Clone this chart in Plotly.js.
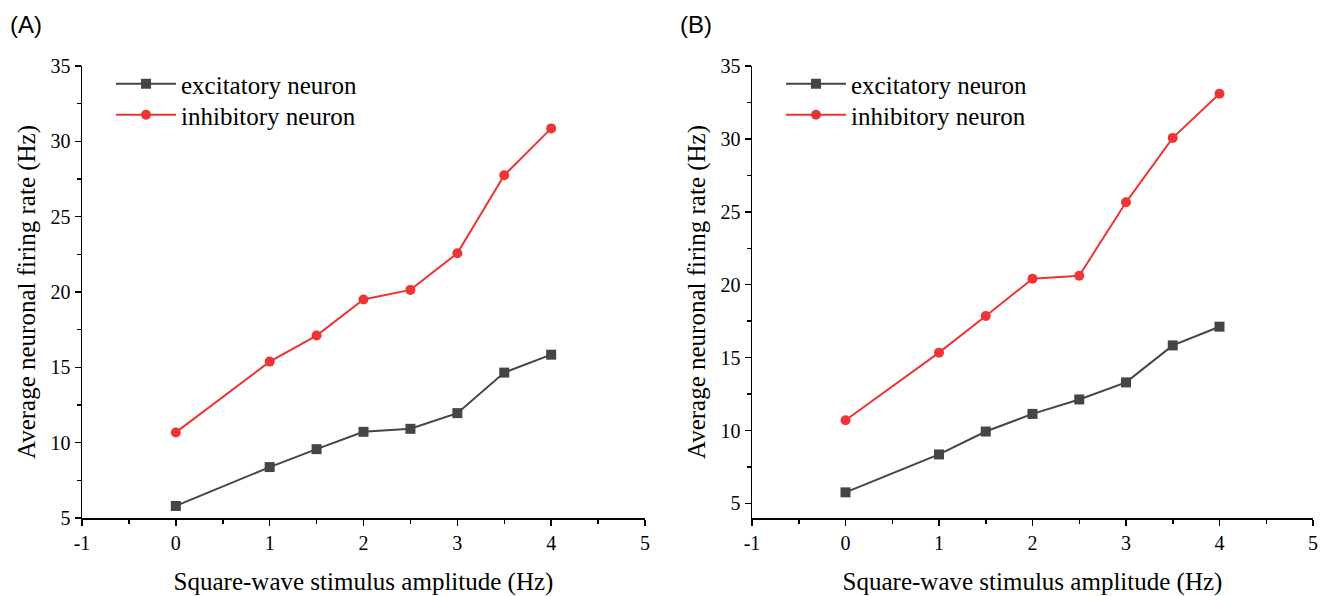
<!DOCTYPE html>
<html>
<head>
<meta charset="utf-8">
<script src="https://cdn.plot.ly/plotly-3.0.1.min.js"></script>
<style>html,body{margin:0;padding:0;background:#fff}#chart{width:1329px;height:596px}</style>
</head>
<body>
<div id="chart"></div>
<script>
// Data
const amplitude = [0, 1, 1.5, 2, 2.5, 3, 3.5, 4];
const excitatoryA = [5.8, 8.38, 9.57, 10.72, 10.92, 11.96, 14.65, 15.84];
const inhibitoryA = [10.68, 15.38, 17.11, 19.5, 20.14, 22.57, 27.75, 30.86];
const excitatoryB = [5.76, 8.36, 9.93, 11.14, 12.13, 13.3, 15.84, 17.12];
const inhibitoryB = [10.7, 15.34, 17.85, 20.41, 20.62, 25.65, 30.07, 33.1];
const seriesNames = ['excitatory neuron', 'inhibitory neuron'];
const panelLabels = ['(A)', '(B)'];
const xTickVals = [-1, 0, 1, 2, 3, 4, 5];
const xTickLabels = ['-1', '0', '1', '2', '3', '4', '5'];
const xTitle = 'Square-wave stimulus amplitude (Hz)';
const yTitle = 'Average neuronal firing rate (Hz)';

const W = 1329, H = 596;
const gray = '#454545', red = '#ee3434';
const serif = 'Liberation Serif, Times New Roman, serif';

function tr(x, y, name, color, symbol, xa, ya, legend) {
  return {
    x: x, y: y, name: name, type: 'scatter', mode: 'lines+markers',
    xaxis: xa, yaxis: ya, legend: legend,
    line: {color: color, width: 2},
    marker: {color: color, symbol: symbol, size: 10}
  };
}
const data = [
  tr(amplitude, excitatoryA, seriesNames[0], gray, 'square', 'x', 'y', 'legend'),
  tr(amplitude, inhibitoryA, seriesNames[1], red, 'circle', 'x', 'y', 'legend2'),
  tr(amplitude, excitatoryB, seriesNames[0], gray, 'square', 'x2', 'y2', 'legend3'),
  tr(amplitude, inhibitoryB, seriesNames[1], red, 'circle', 'x2', 'y2', 'legend4')
];

const yDom = [1 - 518 / H, 1 - 66 / H];
function xaxis(dom, anchor) {
  return {
    domain: dom, anchor: anchor, range: [-1, 5],
    tickmode: 'array', tickvals: xTickVals, ticktext: xTickLabels,
    showgrid: false, zeroline: false, showline: true, linecolor: '#000', linewidth: 1.5,
    ticks: 'outside', ticklen: 6, tickwidth: 1.5, tickcolor: '#000',
    minor: {ticks: 'outside', ticklen: 4, tickwidth: 1.5, tickcolor: '#000', dtick: 0.5, tick0: -1},
    tickfont: {family: serif, size: 20, color: '#000'},
    title: {text: xTitle, font: {family: serif, size: 25, color: '#000'}, standoff: 22}
  };
}
function yaxis(range, anchor) {
  return {
    domain: yDom, anchor: anchor, range: range, tick0: 5, dtick: 5,
    showgrid: false, zeroline: false, showline: true, linecolor: '#000', linewidth: 1.5,
    ticks: 'outside', ticklen: 6, tickwidth: 1.5, tickcolor: '#000',
    minor: {ticks: 'outside', ticklen: 4, tickwidth: 1.5, tickcolor: '#000', dtick: 2.5, tick0: 2.5},
    tickfont: {family: serif, size: 20, color: '#000'},
    title: {text: yTitle, font: {family: serif, size: 25, color: '#000'}, standoff: 8}
  };
}
function legend(xpx, ypx) {
  return {
    x: xpx / W, xanchor: 'left', y: 1 - ypx / H, yanchor: 'top',
    bgcolor: 'rgba(0,0,0,0)', borderwidth: 0, itemwidth: 60,
    font: {family: serif, size: 25, color: '#000'}, tracegroupgap: 0
  };
}

const layout = {
  width: W, height: H, margin: {l: 0, r: 0, t: 0, b: 0},
  paper_bgcolor: '#fff', plot_bgcolor: '#fff', showlegend: true,
  xaxis: xaxis([82 / W, 645 / W], 'y'),
  yaxis: yaxis([5, 35], 'x'),
  xaxis2: xaxis([752 / W, 1313 / W], 'y2'),
  yaxis2: yaxis([4, 35], 'x2'),
  legend: legend(111, 61),
  legend2: legend(111, 92),
  legend3: legend(781, 61),
  legend4: legend(781, 92),
  annotations: [
    {text: panelLabels[0], xref: 'paper', yref: 'paper', x: 8 / W, y: 1 - 25 / H, xanchor: 'left', yanchor: 'middle', showarrow: false, font: {family: 'Liberation Sans, Arial, sans-serif', size: 24, color: '#000'}},
    {text: panelLabels[1], xref: 'paper', yref: 'paper', x: 678 / W, y: 1 - 25 / H, xanchor: 'left', yanchor: 'middle', showarrow: false, font: {family: 'Liberation Sans, Arial, sans-serif', size: 24, color: '#000'}}
  ]
};

Plotly.newPlot('chart', data, layout, {staticPlot: true, displayModeBar: false});
</script>
</body>
</html>
